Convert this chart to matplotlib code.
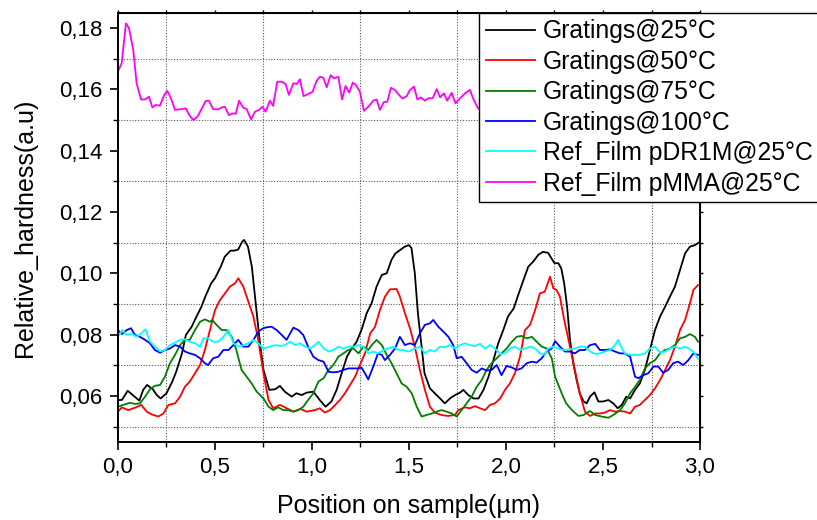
import matplotlib
matplotlib.use("Agg")
import matplotlib.pyplot as plt
from matplotlib.ticker import MultipleLocator, FuncFormatter

plt.rcParams['font.family'] = ['Liberation Sans', 'DejaVu Sans']

labels = ["Gratings@25°C", "Gratings@50°C", "Gratings@75°C", "Gratings@100°C",
          "Ref_Film pDR1M@25°C", "Ref_Film pMMA@25°C"]
colors = ["#000000", "#FF0000", "#008000", "#0000FF", "#00FFFF", "#FF00FF"]

x25 = [0, 0.02, 0.05, 0.08, 0.11, 0.13, 0.15, 0.18, 0.2, 0.22, 0.25, 0.28, 0.3, 0.33, 0.35,
       0.38, 0.4, 0.43, 0.45, 0.48, 0.5, 0.53, 0.55, 0.58, 0.6, 0.62, 0.64, 0.65, 0.67, 0.69,
       0.71, 0.73, 0.75, 0.78, 0.81, 0.835, 0.86, 0.895, 0.92, 0.947, 0.972, 1.007, 1.04, 1.07,
       1.1, 1.127, 1.153, 1.18, 1.205, 1.23, 1.255, 1.282, 1.307, 1.333, 1.36, 1.385, 1.41,
       1.43, 1.45, 1.478, 1.5, 1.513, 1.53, 1.546, 1.565, 1.58, 1.608, 1.633, 1.66, 1.685,
       1.711, 1.737, 1.763, 1.78, 1.806, 1.832, 1.858, 1.884, 1.91, 1.935, 1.96, 1.986, 2.01,
       2.04, 2.06, 2.09, 2.115, 2.14, 2.166, 2.19, 2.217, 2.234, 2.25, 2.27, 2.285, 2.3, 2.315,
       2.33, 2.347, 2.364, 2.38, 2.4, 2.416, 2.433, 2.456, 2.476, 2.5, 2.528, 2.553, 2.576,
       2.597, 2.62, 2.64, 2.665, 2.69, 2.716, 2.742, 2.768, 2.794, 2.82, 2.845, 2.871, 2.897,
       2.923, 2.948, 2.974, 3.0]
y25 = [0.0587, 0.0587, 0.0617, 0.0601, 0.0585, 0.0620, 0.0636, 0.0622, 0.0603, 0.0592, 0.0609,
       0.0647, 0.0679, 0.0739, 0.0799, 0.0826, 0.0853, 0.0891, 0.0924, 0.0967, 0.0984, 0.1022,
       0.1054, 0.1074, 0.1074, 0.1078, 0.1103, 0.1109, 0.1087, 0.1022, 0.0902, 0.0783, 0.0685,
       0.0620, 0.0622, 0.0633, 0.0614, 0.0598, 0.0609, 0.0603, 0.0611, 0.0614, 0.0587, 0.0565,
       0.0582, 0.0620, 0.0674, 0.0728, 0.0755, 0.0777, 0.0815, 0.0870, 0.0902, 0.0957, 0.0995,
       0.1000, 0.1044, 0.1065, 0.1074, 0.1087, 0.1092, 0.1082, 0.1000, 0.0870, 0.0761, 0.0674,
       0.0625, 0.0609, 0.0592, 0.0576, 0.0592, 0.0603, 0.0611, 0.0620, 0.0603, 0.0592, 0.0592,
       0.0620, 0.0663, 0.0717, 0.0772, 0.0815, 0.0859, 0.0886, 0.0924, 0.0978, 0.1022, 0.1038,
       0.1060, 0.1070, 0.1067, 0.1049, 0.1033, 0.1033, 0.1016, 0.0967, 0.0891, 0.0783, 0.0707,
       0.0652, 0.0609, 0.0582, 0.0576, 0.0598, 0.0612, 0.0582, 0.0582, 0.0587, 0.0576, 0.0560,
       0.0571, 0.0598, 0.0592, 0.0620, 0.0641, 0.0685, 0.0750, 0.0815, 0.0859, 0.0891, 0.0924,
       0.0957, 0.1011, 0.1065, 0.1087, 0.1092, 0.1103]

x50 = [0, 0.02, 0.053, 0.088, 0.12, 0.148, 0.174, 0.208, 0.234, 0.26, 0.294, 0.32, 0.345, 0.37,
       0.397, 0.423, 0.448, 0.474, 0.5, 0.526, 0.552, 0.577, 0.603, 0.62, 0.646, 0.672, 0.698,
       0.723, 0.75, 0.776, 0.8, 0.835, 0.869, 0.904, 0.94, 0.972, 1.015, 1.04, 1.066, 1.093,
       1.12, 1.144, 1.17, 1.196, 1.222, 1.247, 1.273, 1.3, 1.325, 1.35, 1.376, 1.402, 1.436,
       1.453, 1.479, 1.505, 1.53, 1.556, 1.582, 1.608, 1.633, 1.668, 1.70, 1.737, 1.754, 1.788,
       1.814, 1.84, 1.866, 1.892, 1.918, 1.943, 1.97, 1.995, 2.02, 2.046, 2.072, 2.098, 2.124,
       2.15, 2.175, 2.2, 2.227, 2.244, 2.26, 2.278, 2.3, 2.33, 2.355, 2.38, 2.407, 2.433, 2.46,
       2.484, 2.51, 2.536, 2.562, 2.588, 2.613, 2.64, 2.665, 2.69, 2.716, 2.742, 2.768, 2.794,
       2.82, 2.845, 2.871, 2.897, 2.923, 2.948, 2.966, 2.99]
y50 = [0.0549, 0.0563, 0.0554, 0.0562, 0.0571, 0.0549, 0.0540, 0.0533, 0.0543, 0.0571, 0.0576,
       0.0598, 0.0630, 0.0647, 0.0674, 0.0701, 0.0750, 0.0815, 0.0880, 0.0913, 0.0935, 0.0957,
       0.0967, 0.0984, 0.0957, 0.0908, 0.0859, 0.0783, 0.0674, 0.0587, 0.0560, 0.0571, 0.0560,
       0.0549, 0.0558, 0.0549, 0.0554, 0.0560, 0.0546, 0.0554, 0.0571, 0.0587, 0.0609, 0.0636,
       0.0663, 0.0701, 0.0739, 0.0804, 0.0826, 0.0880, 0.0924, 0.0948, 0.0949, 0.0924, 0.0870,
       0.0821, 0.0761, 0.0685, 0.0620, 0.0565, 0.0546, 0.0538, 0.0535, 0.0538, 0.0554, 0.0563,
       0.0560, 0.0567, 0.0560, 0.0554, 0.0571, 0.0576, 0.0592, 0.0620, 0.0641, 0.0674, 0.0728,
       0.0815, 0.0832, 0.0880, 0.0935, 0.0940, 0.0989, 0.0951, 0.0946, 0.0924, 0.0848, 0.0761,
       0.0685, 0.0609, 0.0549, 0.0535, 0.0543, 0.0543, 0.0546, 0.0554, 0.0549, 0.0551, 0.0549,
       0.0543, 0.0565, 0.0571, 0.0587, 0.0603, 0.0625, 0.0652, 0.0685, 0.0717, 0.0761, 0.0815,
       0.0848, 0.0902, 0.0946, 0.0962]

x75 = [0, 0.027, 0.062, 0.088, 0.113, 0.14, 0.165, 0.19, 0.217, 0.242, 0.268, 0.294, 0.32,
       0.345, 0.37, 0.397, 0.423, 0.448, 0.474, 0.486, 0.508, 0.535, 0.56, 0.586, 0.61, 0.637,
       0.663, 0.689, 0.715, 0.75, 0.776, 0.8, 0.826, 0.852, 0.878, 0.904, 0.93, 0.955, 0.98,
       1.007, 1.033, 1.06, 1.085, 1.11, 1.136, 1.162, 1.187, 1.213, 1.24, 1.265, 1.29, 1.308,
       1.333, 1.36, 1.385, 1.41, 1.436, 1.462, 1.488, 1.514, 1.54, 1.565, 1.59, 1.617, 1.643,
       1.668, 1.694, 1.72, 1.746, 1.771, 1.797, 1.823, 1.849, 1.875, 1.9, 1.926, 1.952, 1.977,
       2.003, 2.03, 2.055, 2.08, 2.107, 2.133, 2.158, 2.184, 2.21, 2.236, 2.253, 2.27, 2.287,
       2.31, 2.34, 2.373, 2.4, 2.433, 2.46, 2.493, 2.528, 2.553, 2.588, 2.613, 2.64, 2.665,
       2.69, 2.716, 2.742, 2.768, 2.794, 2.82, 2.845, 2.871, 2.897, 2.923, 2.948, 2.974, 2.99]
y75 = [0.0565, 0.0571, 0.0578, 0.0574, 0.0576, 0.0598, 0.0622, 0.0633, 0.0636, 0.0663, 0.0707,
       0.0734, 0.0766, 0.0783, 0.0783, 0.0815, 0.0842, 0.0850, 0.0842, 0.0848, 0.0832, 0.0815,
       0.0815, 0.0793, 0.0750, 0.0685, 0.0663, 0.0641, 0.0614, 0.0592, 0.0565, 0.0554, 0.0563,
       0.0554, 0.0554, 0.0549, 0.0554, 0.0565, 0.0587, 0.0609, 0.0647, 0.0658, 0.0685, 0.0701,
       0.0728, 0.0739, 0.0750, 0.0755, 0.0739, 0.0761, 0.0750, 0.0766, 0.0783, 0.0766, 0.0734,
       0.0707, 0.0674, 0.0641, 0.0630, 0.0609, 0.0565, 0.0533, 0.0538, 0.0543, 0.0549, 0.0554,
       0.0549, 0.0543, 0.0533, 0.0554, 0.0576, 0.0598, 0.0630, 0.0652, 0.0685, 0.0707, 0.0723,
       0.0739, 0.0755, 0.0777, 0.0793, 0.0796, 0.0788, 0.0793, 0.0777, 0.0761, 0.0755, 0.0723,
       0.0663, 0.0636, 0.0609, 0.0576, 0.0554, 0.0535, 0.0538, 0.0551, 0.0538, 0.0533, 0.0529,
       0.0538, 0.0554, 0.0576, 0.0609, 0.0630, 0.0652, 0.0690, 0.0707, 0.0717, 0.0739, 0.0750,
       0.0755, 0.0766, 0.0788, 0.0793, 0.0802, 0.0793, 0.0777]

x100 = [0, 0.02, 0.045, 0.067, 0.088, 0.113, 0.14, 0.165, 0.19, 0.217, 0.242, 0.268, 0.294,
        0.32, 0.345, 0.37, 0.397, 0.423, 0.448, 0.465, 0.49, 0.517, 0.543, 0.569, 0.595, 0.62,
        0.646, 0.672, 0.698, 0.723, 0.749, 0.766, 0.792, 0.818, 0.844, 0.869, 0.887, 0.904,
        0.93, 0.955, 0.98, 1.007, 1.033, 1.06, 1.085, 1.11, 1.136, 1.162, 1.187, 1.213, 1.24,
        1.255, 1.273, 1.29, 1.316, 1.34, 1.36, 1.376, 1.402, 1.428, 1.453, 1.479, 1.505, 1.53,
        1.556, 1.582, 1.608, 1.625, 1.651, 1.677, 1.703, 1.728, 1.746, 1.771, 1.797, 1.823,
        1.849, 1.875, 1.9, 1.926, 1.952, 1.977, 2.003, 2.03, 2.055, 2.08, 2.107, 2.133, 2.158,
        2.184, 2.21, 2.236, 2.253, 2.278, 2.304, 2.33, 2.355, 2.38, 2.407, 2.433, 2.46, 2.484,
        2.51, 2.536, 2.562, 2.588, 2.613, 2.64, 2.665, 2.682, 2.708, 2.733, 2.76, 2.785, 2.81,
        2.836, 2.862, 2.887, 2.913, 2.94, 2.966, 2.99]
y100 = [0.0815, 0.0802, 0.0815, 0.0821, 0.0799, 0.0793, 0.0783, 0.0772, 0.0750, 0.0741, 0.0750,
        0.0755, 0.0766, 0.0761, 0.0745, 0.0739, 0.0734, 0.0723, 0.0707, 0.0701, 0.0723, 0.0728,
        0.0750, 0.0750, 0.0766, 0.0783, 0.0761, 0.0761, 0.0783, 0.0810, 0.0821, 0.0824, 0.0826,
        0.0815, 0.0799, 0.0783, 0.0804, 0.0823, 0.0815, 0.0799, 0.0761, 0.0728, 0.0717, 0.0712,
        0.0679, 0.0677, 0.0679, 0.0685, 0.0690, 0.0690, 0.0690, 0.0693, 0.0674, 0.0654, 0.0696,
        0.0739, 0.0734, 0.0717, 0.0734, 0.0755, 0.0793, 0.0766, 0.0772, 0.0766, 0.0804, 0.0832,
        0.0837, 0.0848, 0.0826, 0.0810, 0.0793, 0.0766, 0.0723, 0.0728, 0.0707, 0.0685, 0.0676,
        0.0690, 0.0683, 0.0685, 0.0701, 0.0668, 0.0698, 0.0693, 0.0685, 0.0690, 0.0707, 0.0712,
        0.0709, 0.0723, 0.0745, 0.0755, 0.0779, 0.0761, 0.0745, 0.0745, 0.0739, 0.0750, 0.0750,
        0.0766, 0.0770, 0.0750, 0.0750, 0.0752, 0.0745, 0.0739, 0.0739, 0.0728, 0.0663, 0.0658,
        0.0668, 0.0674, 0.0696, 0.0696, 0.0676, 0.0685, 0.0707, 0.0712, 0.0701, 0.0717, 0.0739,
        0.0734]

x_dr1m = [0, 0.022, 0.045, 0.07, 0.096, 0.12, 0.142, 0.165, 0.19, 0.217, 0.242, 0.268, 0.294,
          0.32, 0.345, 0.37, 0.397, 0.423, 0.44, 0.465, 0.49, 0.517, 0.543, 0.569, 0.595, 0.62,
          0.646, 0.672, 0.698, 0.723, 0.749, 0.783, 0.81, 0.835, 0.86, 0.887, 0.913, 0.938,
          0.964, 0.99, 1.016, 1.033, 1.06, 1.085, 1.11, 1.136, 1.162, 1.187, 1.213, 1.24, 1.265,
          1.29, 1.316, 1.34, 1.37, 1.392, 1.42, 1.445, 1.47, 1.497, 1.53, 1.556, 1.582, 1.608,
          1.633, 1.66, 1.685, 1.711, 1.737, 1.763, 1.788, 1.814, 1.84, 1.866, 1.892, 1.918,
          1.943, 1.97, 1.995, 2.02, 2.046, 2.072, 2.098, 2.124, 2.15, 2.175, 2.2, 2.217, 2.243,
          2.278, 2.304, 2.33, 2.355, 2.38, 2.407, 2.433, 2.46, 2.484, 2.51, 2.536, 2.562, 2.578,
          2.597, 2.613, 2.64, 2.665, 2.69, 2.716, 2.742, 2.768, 2.794, 2.82, 2.845, 2.871, 2.897,
          2.923, 2.948, 2.974, 2.99]
y_dr1m = [0.0793, 0.0815, 0.0799, 0.0804, 0.0793, 0.0804, 0.0818, 0.0777, 0.0761, 0.0745,
          0.0750, 0.0766, 0.0774, 0.0783, 0.0785, 0.0777, 0.0772, 0.0761, 0.0788, 0.0788, 0.0777,
          0.0777, 0.0793, 0.0815, 0.0772, 0.0761, 0.0766, 0.0772, 0.0783, 0.0772, 0.0755, 0.0761,
          0.0766, 0.0763, 0.0766, 0.0777, 0.0766, 0.0772, 0.0761, 0.0755, 0.0766, 0.0777, 0.0755,
          0.0745, 0.0750, 0.0761, 0.0755, 0.0761, 0.0761, 0.0766, 0.0761, 0.0739, 0.0745, 0.0739,
          0.0750, 0.0755, 0.0761, 0.0750, 0.0750, 0.0745, 0.0755, 0.0761, 0.0739, 0.0750, 0.0745,
          0.0761, 0.0759, 0.0766, 0.0755, 0.0766, 0.0772, 0.0766, 0.0763, 0.0770, 0.0755, 0.0766,
          0.0755, 0.0737, 0.0739, 0.0755, 0.0761, 0.0750, 0.0755, 0.0761, 0.0755, 0.0739, 0.0734,
          0.0755, 0.0761, 0.0752, 0.0750, 0.0752, 0.0755, 0.0761, 0.0761, 0.0745, 0.0737, 0.0739,
          0.0745, 0.0750, 0.0766, 0.0783, 0.0755, 0.0739, 0.0734, 0.0734, 0.0734, 0.0739, 0.0755,
          0.0761, 0.0741, 0.0745, 0.0755, 0.0761, 0.0755, 0.0761, 0.0752, 0.0739, 0.0720]

x_pmma = [0, 0.019, 0.041, 0.057, 0.079, 0.096, 0.119, 0.14, 0.16, 0.177, 0.194, 0.216, 0.239,
          0.254, 0.273, 0.294, 0.32, 0.349, 0.371, 0.388, 0.41, 0.431, 0.452, 0.469, 0.491,
          0.517, 0.534, 0.551, 0.572, 0.595, 0.607, 0.624, 0.646, 0.663, 0.686, 0.706, 0.727,
          0.744, 0.761, 0.783, 0.8, 0.821, 0.844, 0.864, 0.881, 0.904, 0.921, 0.938, 0.956,
          0.981, 1.003, 1.024, 1.041, 1.058, 1.076, 1.096, 1.113, 1.136, 1.155, 1.173, 1.192,
          1.21, 1.227, 1.247, 1.268, 1.29, 1.316, 1.333, 1.35, 1.371, 1.388, 1.407, 1.428, 1.448,
          1.467, 1.488, 1.505, 1.526, 1.543, 1.56, 1.582, 1.6, 1.622, 1.643, 1.66, 1.68, 1.697,
          1.72, 1.74, 1.763, 1.789, 1.814, 1.83, 1.856, 1.88]
y_pmma = [0.1658, 0.1685, 0.1815, 0.1799, 0.1728, 0.1620, 0.1567, 0.1567, 0.1576, 0.1541,
          0.1549, 0.1547, 0.1582, 0.1595, 0.1571, 0.1533, 0.1535, 0.1538, 0.1513, 0.1500,
          0.1511, 0.1536, 0.1562, 0.1563, 0.1535, 0.1535, 0.1541, 0.1543, 0.1516, 0.1522,
          0.1520, 0.1563, 0.1540, 0.1536, 0.1502, 0.1527, 0.1533, 0.1543, 0.1527, 0.1563,
          0.1546, 0.1625, 0.1625, 0.1617, 0.1582, 0.1620, 0.1617, 0.1633, 0.1578, 0.1585,
          0.1592, 0.1628, 0.1641, 0.1638, 0.1607, 0.1646, 0.1636, 0.1641, 0.1567, 0.1611,
          0.1589, 0.1622, 0.1614, 0.1592, 0.1530, 0.1543, 0.1563, 0.1567, 0.1533, 0.1559,
          0.1559, 0.1605, 0.1598, 0.1582, 0.1570, 0.1578, 0.1598, 0.1609, 0.1567, 0.1574,
          0.1563, 0.1571, 0.1571, 0.1601, 0.1574, 0.1587, 0.1563, 0.1589, 0.1554, 0.1571,
          0.1587, 0.1598, 0.1571, 0.1538, 0.1530]

xs = [x25, x50, x75, x100, x_dr1m, x_pmma]
ys = [y25, y50, y75, y100, y_dr1m, y_pmma]

fig = plt.figure(figsize=(8.17, 5.20), dpi=100)
ax = fig.add_axes([0.1444, 0.15, 0.7124, 0.8256])

handles = []
for xv, yv, c, lab in zip(xs, ys, colors, labels):
    h, = ax.plot(xv, yv, color=c, lw=1.3, label=lab)
    handles.append(h)

ax.set_xlim(0, 3.0)
ax.set_ylim(0.045, 0.185)
ax.xaxis.set_major_locator(MultipleLocator(0.5))
ax.xaxis.set_minor_locator(MultipleLocator(0.25))
ax.yaxis.set_major_locator(MultipleLocator(0.02))
ax.yaxis.set_minor_locator(MultipleLocator(0.01))
ax.xaxis.set_major_formatter(FuncFormatter(lambda v, p: f"{v:.1f}".replace('.', ',')))
ax.yaxis.set_major_formatter(FuncFormatter(lambda v, p: f"{v:.2f}".replace('.', ',')))
ax.grid(which='minor', linestyle=(0, (1, 1.5)), color='0.35', lw=0.8)
ax.grid(which='major', visible=False)
ax.set_axisbelow(True)

ax.tick_params(which='major', direction='out', length=6, width=1.2, labelsize=16, pad=5)
ax.tick_params(which='minor', direction='out', length=3.5, width=1.0)
for s in ax.spines.values():
    s.set_linewidth(1.4)

# short mirrored ticks on top and right
secy = ax.secondary_yaxis('right')
secy.yaxis.set_major_locator(MultipleLocator(0.02))
secy.yaxis.set_minor_locator(MultipleLocator(0.01))
secy.tick_params(which='both', direction='out', length=2, width=1.0, labelright=False)
secx = ax.secondary_xaxis('top')
secx.xaxis.set_major_locator(MultipleLocator(0.5))
secx.xaxis.set_minor_locator(MultipleLocator(0.25))
secx.tick_params(which='both', direction='out', length=2, width=1.0, labeltop=False)

ax.set_xlabel("Position on sample(µm)", fontsize=18, labelpad=11)
ax.set_ylabel("Relative_hardness(a.u)", fontsize=18, labelpad=16)

leg = fig.legend(handles=handles, labels=labels, loc='upper left',
                 bbox_to_anchor=(0.5863, 0.9756), bbox_transform=fig.transFigure,
                 fontsize=17.8, frameon=True, fancybox=False, shadow=False,
                 borderaxespad=0, borderpad=0.27, labelspacing=0.26,
                 handlelength=2.0, handletextpad=0.3, framealpha=1)
leg.get_frame().set_edgecolor('black')
leg.get_frame().set_linewidth(1.0)

fig.savefig("out.png", dpi=100)
